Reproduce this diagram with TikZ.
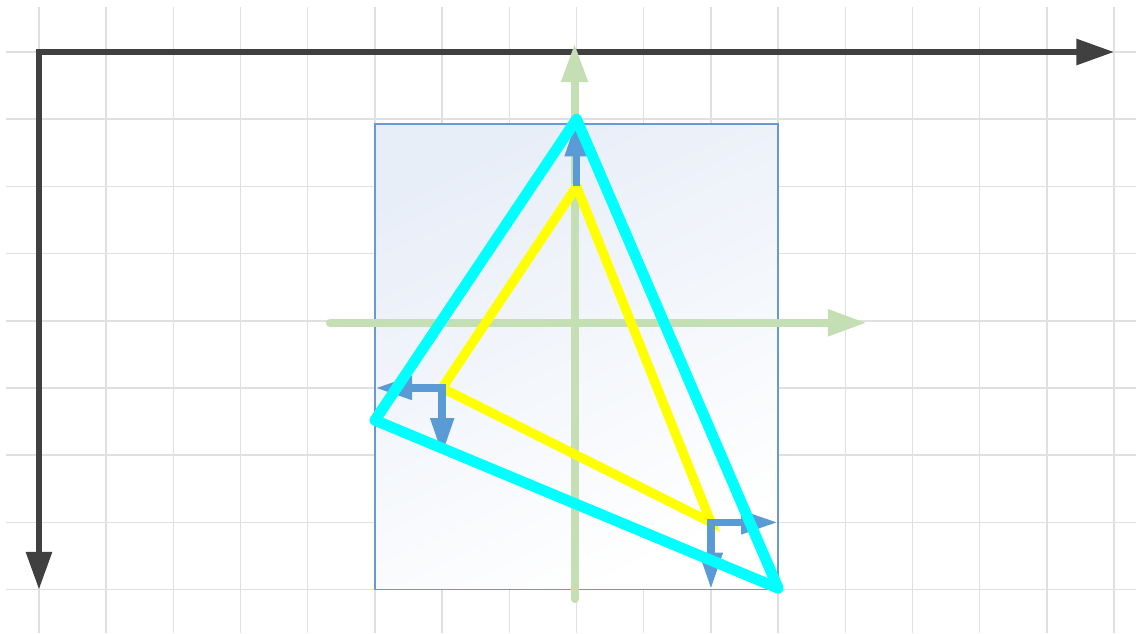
\documentclass[tikz,border=0pt]{standalone}
\usetikzlibrary{arrows.meta}
\definecolor{gridgray}{HTML}{E0E0E0}
\definecolor{axisdark}{HTML}{404040}
\definecolor{framegreen}{HTML}{C5DFB4}
\definecolor{boxblue}{HTML}{6A98D2}
\definecolor{boxfill}{HTML}{E8EEF8}
\definecolor{normalblue}{HTML}{5B9BD5}
\definecolor{triyellow}{HTML}{FFFF00}
\definecolor{tricyan}{HTML}{00FFFF}
\begin{document}
\begin{tikzpicture}[
  gridline/.style={gridgray,line width=0.6pt},
  worldaxis/.style={axisdark,line width=2.5pt,line join=miter,{Triangle[length=16pt,width=10.6pt]}-{Triangle[length=16pt,width=10.6pt]}},
  localaxis/.style={framegreen,line width=3.4pt,line cap=round,-{Triangle[length=16.5pt,width=10.6pt]}},
  normalline/.style={normalblue,line width=3.2pt,line join=miter},
  normaltips/.style={{Triangle[length=15.7pt,width=9.3pt]}-{Triangle[length=15.7pt,width=9.3pt]}},
  normaltip/.style={-{Triangle[length=15.7pt,width=9.3pt]}},
  innertri/.style={triyellow,line width=4pt,line join=miter},
  outertri/.style={tricyan,line width=4.6pt,line join=round}]
  \useasboundingbox (-0.58,0.774) rectangle (16.325,-8.646);
  \foreach \x in {0,...,16} \draw[gridline] (\x,0.67) -- (\x,-8.646);
  \foreach \y in {0,...,8} \draw[gridline] (-0.49,-\y) -- (16.325,-\y);
  \draw[worldaxis] (0,-8) -- (0,0) -- (16,0);
  \shade[top color=boxfill,middle color=boxfill!30!white,bottom color=white,shading angle=25] (5,-1.07) rectangle (11,-8);
  \draw[boxblue,line width=0.6pt] (5,-1.07) rectangle (11,-8);
  \draw[localaxis] (7.97,-8.14) -- (7.97,0.13);
  \draw[localaxis] (4.33,-4.03) -- (12.32,-4.03);
  \coordinate (ya) at (8,-2);
  \coordinate (yb) at (6,-5);
  \coordinate (yc) at (10,-7);
  \draw[innertri] (ya) -- (yb) -- (yc) -- cycle;
  \draw[normalline,normaltip] (ya) -- (8,-1);
  \draw[normalline,normaltips] (5,-5) -- (yb) -- (6,-6);
  \draw[normalline,normaltips] (11,-7) -- (yc) -- (10,-8);
  \draw[outertri] (8,-1) -- (5,-5.48) -- (11,-7.98) -- cycle;
\end{tikzpicture}
\end{document}
